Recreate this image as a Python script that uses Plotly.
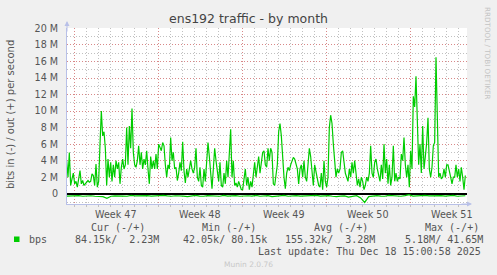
import plotly.graph_objects as go
import pandas as pd

# ---------------- data (Mbit/s) ----------------
out_seg1 = [4.0,2.0,5.0,1.0,1.8,2.5,1.2,1.5,0.8,1.8,2.8,1.2,1.6,1.0,1.2,1.3,1.6,1.4,1.5,2.4,
            2.2,1.0,3.6,0.8,1.5,6.0,10.0,7.0,7.5,5.5,1.0,4.2,2.0,3.8,1.5,3.5,2.0,4.0,3.0,3.8,
            1.2,3.2,4.2,3.0,3.5,8.0,3.5,8.2,5.5,10.3,5.0,3.5,3.2,4.0,5.8,3.5,5.0,3.0,4.2,3.5,
            5.2,3.0,1.2,4.5,3.0,4.0,3.0,4.8,3.0,6.0,5.5,5.2,6.2,5.8]
out_seg2 = [3.5,2.0,3.5,3.0,6.8,4.0,5.0,3.0,3.2,1.6,2.5,3.8,2.8,6.3,2.8,1.3,3.0,2.0,3.0,4.0,
            3.0,2.5,3.2,5.5,2.0,1.5,3.2,1.0,0.8,3.0,1.5,4.0,6.2,4.5,2.0,0.6,3.0,5.5,4.0,2.5,
            1.5,3.8,1.0,0.8,2.5,1.2,4.0,2.0,4.5,7.8,2.0,4.0,1.0,1.3,0.8,1.5,1.0,0.5,0.5,2.0,
            3.0,1.0,2.0,0.5,1.5,0.8,2.0,3.8,2.0,3.5,4.5,2.5,4.0,5.0,5.2]
out_seg3 = [3.5,3.2,5.5,4.0,5.5,5.0,1.2,1.0,2.5,3.5,7.5,8.5,7.0,4.0,2.0,0.6,2.5,3.2,2.8,3.5,
            4.0,4.4,4.2,3.5,3.0,1.2,3.0,3.5,2.0,4.0,2.0,1.5,3.8,5.5,4.5,3.0,1.0,3.5,2.8,1.8,
            1.0,0.8,2.5,0.5,4.0,1.5,0.8,2.0,8.0,9.5,8.5,6.0,4.0,2.0,3.0,2.5,3.0,5.0,5.2,4.0,
            2.5,2.0,1.5,3.0,2.0,3.8,2.5,4.0,2.2,1.0,1.8,0.8,2.0,1.5,0.5]
out_seg4 = [1.0,2.0,1.5,2.5,5.8,2.5,2.0,3.8,4.2,3.0,2.0,1.5,3.5,1.8,6.0,2.5,4.2,1.2,3.5,1.0,
            2.0,5.8,1.5,2.5,1.5,2.0,1.8,4.8,4.0,6.8,3.5,2.0,3.5,0.8,5.2,3.0,11.8,10.5,14.2,7.0,
            3.5,6.0,2.5,8.2,3.0,4.5,6.2,9.2,3.0,2.0,3.2,5.8,6.2,16.5,8.0,2.0,2.5,1.8,2.0,3.0,
            2.0,3.5,3.5,2.5,2.0,1.2,2.0,2.0,3.5,2.0,3.0,1.5,3.2,2.0,0.5,2.2]
out_mbps = out_seg1 + out_seg2 + out_seg3 + out_seg4

in_mbps = [-0.30,-0.25,-0.28,-0.22,-0.30,-0.26,-0.24,-0.30,-0.28,-0.35,-0.55,-0.30,-0.25,-0.22,-0.28,-0.30,-0.20,-0.26,-0.24,-0.30,
           -0.22,-0.28,-0.25,-0.30,-0.20,-0.26,-0.30,-0.24,-0.22,-0.28,-0.35,-0.25,-0.20,-0.28,-0.30,-0.22,-0.26,-0.24,-0.30,-0.20,
           -0.28,-0.25,-0.22,-0.30,-0.26,-0.24,-0.28,-0.20,-0.30,-0.25,-0.22,-0.35,-0.28,-0.24,-0.20,-0.30,-0.26,-0.22,-0.28,-0.25,
           -0.30,-0.24,-0.20,-0.28,-0.26,-0.22,-0.30,-0.35,-0.28,-0.25,-0.40,-0.30,-0.24,-0.50,-1.05,-0.35,-0.25,-0.22,-0.28,-0.30,
           -0.20,-0.26,-0.24,-0.30,-0.22,-0.10,-0.28,-0.25,-0.30,-0.20,-0.26,-0.24,-0.30,-0.22,-0.28,-0.25,-0.20,-0.30,-0.26,-0.24]

y_tickvals = [0, 2, 4, 6, 8, 10, 12, 14, 16, 18, 20]
y_ticktext = ["0", "2 M", "4 M", "6 M", "8 M", "10 M", "12 M", "14 M", "16 M", "18 M", "20 M"]
week_labels = ["Week 47", "Week 48", "Week 49", "Week 50", "Week 51"]
week_starts = pd.to_datetime(["2025-11-16", "2025-11-23", "2025-11-30", "2025-12-07", "2025-12-14"])

legend_headers = ["Cur (-/+)", "Min (-/+)", "Avg (-/+)", "Max (-/+)"]
legend_values = [" 84.15k/  2.23M", " 42.05k/ 80.15k", "155.32k/  3.28M", "  5.18M/ 41.65M"]

# ---------------- time base ----------------
data_end = pd.Timestamp("2025-12-18 14:40")
t_out = pd.date_range(end=data_end, periods=len(out_mbps), freq="160min")
t_in = pd.date_range(start=t_out[0], end=data_end, periods=len(in_mbps))
x_start = pd.Timestamp("2025-11-16") - pd.Timedelta(hours=14)
x_end = pd.Timestamp("2025-11-16") + pd.Timedelta(hours=786)
days = pd.date_range("2025-11-15", "2025-12-18", freq="1D")
label_pos = week_starts + pd.Timedelta(hours=84)

# ---------------- geometry ----------------
W, H = 497, 275
L, R, T, B = 67, 30, 28, 71
PW, PH = W - L - R, H - T - B
def px(x):
    return (x - L) / PW
def py(y):
    return (H - B - y) / PH

GREEN = "#00CC00"
AXIS = "#b8c0e8"
RED_GRID = "rgba(235,90,90,0.55)"
GREY_GRID = "rgba(150,150,150,0.6)"
TXT = "#555555"
MONO = "DejaVu Sans Mono"
SANS = "DejaVu Sans"

fig = go.Figure()
fig.add_trace(go.Scatter(x=t_in, y=in_mbps, mode="lines",
                         line=dict(color=GREEN, width=1.2), hoverinfo="skip", showlegend=False))
fig.add_trace(go.Scatter(x=t_out, y=out_mbps, mode="lines",
                         line=dict(color=GREEN, width=1.2), hoverinfo="skip", showlegend=False))

fig.update_layout(
    width=W, height=H, autosize=False,
    margin=dict(l=L, r=R, t=T, b=B, pad=0),
    paper_bgcolor="#F0F0F0", plot_bgcolor="white",
    showlegend=False,
    title=dict(text="ens192 traffic - by month", x=0.5, xref="container", xanchor="center",
               y=1 - 19 / H, yref="container", yanchor="middle",
               font=dict(family=SANS, size=12.5, color="#444444")),
    xaxis=dict(type="date", range=[x_start, x_end],
               tickmode="array", tickvals=week_starts, ticktext=[""] * len(week_starts),
               showticklabels=False,
               showgrid=True, gridcolor=RED_GRID, griddash="1px,2px", gridwidth=1,
               ticks="outside", ticklen=3, tickcolor=RED_GRID,
               minor=dict(tickmode="array", tickvals=days, showgrid=True,
                          gridcolor=GREY_GRID, griddash="1px,2px", gridwidth=1,
                          ticks="outside", ticklen=2, tickcolor="#c0c0c0"),
               showline=True, linecolor=AXIS, linewidth=1, zeroline=False, fixedrange=True),
    yaxis=dict(range=[-1.24, 20.05], tickmode="array", tickvals=y_tickvals, ticktext=y_ticktext,
               showgrid=True, gridcolor=RED_GRID, griddash="1px,2px", gridwidth=1,
               minor=dict(tick0=0, dtick=1, showgrid=True, gridcolor=GREY_GRID,
                          griddash="1px,2px", gridwidth=1),
               ticks="", ticklabelstandoff=6,
               tickfont=dict(family=SANS, size=9.6, color=TXT),
               zeroline=True, zerolinecolor="black", zerolinewidth=2,
               showline=True, linecolor=AXIS, linewidth=1, fixedrange=True),
)

ann = []
# week labels
for pos, lab in zip(label_pos, week_labels):
    ann.append(dict(x=pos, xref="x", y=0, yref="paper", yanchor="top", yshift=-3,
                    text=lab, showarrow=False, font=dict(family=SANS, size=9.6, color=TXT)))
# y-axis title
ann.append(dict(x=px(11), y=py(115), xref="paper", yref="paper", text="bits in (-) / out (+) per second",
                textangle=-90, showarrow=False, xanchor="center", yanchor="middle",
                font=dict(family=SANS, size=10, color=TXT)))
# rrdtool watermark
ann.append(dict(x=px(488), y=py(53), xref="paper", yref="paper", text="RRDTOOL / TOBI OETIKER",
                textangle=90, showarrow=False, xanchor="center", yanchor="middle",
                font=dict(family=SANS, size=7.2, color="#c4c4c4")))
# axis arrows
ann.append(dict(x=0, y=py(21), xref="paper", yref="paper", ax=0, ay=12, text="", showarrow=True,
                arrowhead=2, arrowsize=1, arrowwidth=1, arrowcolor=AXIS, standoff=0))
ann.append(dict(x=px(472), y=0, xref="paper", yref="paper", ax=-12, ay=0, text="", showarrow=True,
                arrowhead=2, arrowsize=1, arrowwidth=1, arrowcolor=AXIS, standoff=0))
# legend
for xl, txt in zip([89.3, 200.3, 312, 422.7], legend_headers):
    ann.append(dict(x=px(xl), y=py(228), xref="paper", yref="paper", text=txt, showarrow=False,
                    xanchor="left", yanchor="middle", font=dict(family=MONO, size=10, color=TXT)))
ann.append(dict(x=px(26.7), y=py(239.5), xref="paper", yref="paper", text="bps", showarrow=False,
                xanchor="left", yanchor="middle", font=dict(family=MONO, size=10, color=TXT)))
for xl, txt in zip([66.7, 174.7, 283.3, 391], legend_values):
    ann.append(dict(x=px(xl), y=py(239.5), xref="paper", yref="paper", text=txt.replace(" ", "&nbsp;"),
                    showarrow=False, xanchor="left", yanchor="middle",
                    font=dict(family=MONO, size=10, color=TXT)))
ann.append(dict(x=px(482.5), y=py(251), xref="paper", yref="paper",
                text="Last update: Thu Dec 18 15:00:58 2025".replace(" ", "&nbsp;"), showarrow=False,
                xanchor="right", yanchor="middle", font=dict(family=MONO, size=10, color=TXT)))
ann.append(dict(x=px(248), y=py(264.5), xref="paper", yref="paper", text="Munin 2.0.76", showarrow=False,
                xanchor="center", yanchor="middle", font=dict(family=SANS, size=7.5, color="#c8c8c8")))
fig.update_layout(annotations=ann)

fig.add_shape(type="rect", xref="paper", yref="paper", x0=px(14), x1=px(19.5), y0=py(242), y1=py(236.5),
              fillcolor=GREEN, line=dict(width=0))

fig.write_html("out.html", config={"displayModeBar": False})
